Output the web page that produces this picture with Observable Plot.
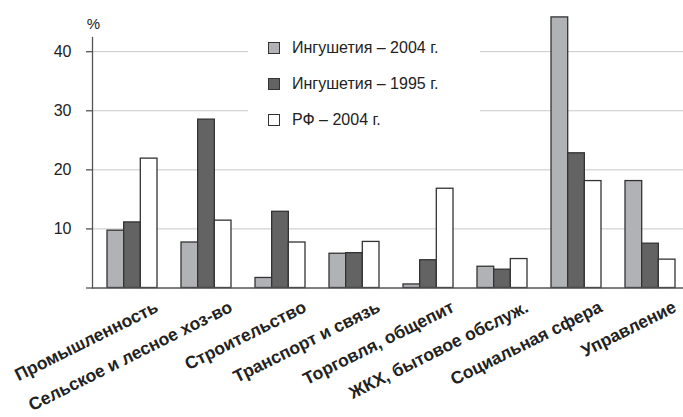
<!DOCTYPE html>
<html>
<head>
<meta charset="utf-8">
<script src="https://cdn.jsdelivr.net/npm/d3@7"></script>
<script src="https://cdn.jsdelivr.net/npm/@observablehq/plot@0.6"></script>
<style>
  html, body { margin: 0; padding: 0; background: #fff; }
  #wrap { position: relative; width: 683px; height: 417px; font-family: "Liberation Sans", Arial, sans-serif; }
  #legend { position: absolute; left: 248px; top: 30px; width: 232px; height: 106px; background: #fff; }
  .item { position: absolute; left: 20px; height: 20px; display: flex; align-items: center; font-size: 16px; color: #222; }
  .sw { width: 10px; height: 10px; border: 1.3px solid #333; margin-right: 12px; }
</style>
</head>
<body>
<div id="wrap"></div>
<script>
const categories = ["Промышленность", "Сельское и лесное хоз-во", "Строительство", "Транспорт и связь",
  "Торговля, общепит", "ЖКХ, бытовое обслуж.", "Социальная сфера", "Управление"];
const seriesNames = ["Ингушетия – 2004 г.", "Ингушетия – 1995 г.", "РФ – 2004 г."];
const ing2004 = [9.7, 7.7, 1.7, 5.8, 0.6, 3.6, 45.8, 18.1];
const ing1995 = [11.1, 28.5, 12.9, 5.9, 4.7, 3.1, 22.8, 7.5];
const rf2004 = [21.9, 11.4, 7.7, 7.8, 16.8, 4.9, 18.1, 4.8];
const seriesValues = [ing2004, ing1995, rf2004];
const colors = ["#b1b2b6", "#636363", "#ffffff"];
const yTicks = [0, 10, 20, 30, 40];

const W = 683, H = 417, mL = 92, mR = 0, mT = 37, mB = 129.5;
const padIn = 0.329, padOut = 0.134, align = 0.633;
const step = (W - mL - mR) / (categories.length - padIn + 2 * padOut);
const bw = step * (1 - padIn);

const barMarks = seriesValues.map((vals, i) =>
  Plot.barY(categories.map((c, j) => ({cat: c, v: vals[j]})), {
    x: "cat", y: "v", fill: colors[i], stroke: "#333", strokeWidth: 1.3,
    insetLeft: i * bw / 3, insetRight: (2 - i) * bw / 3
  })
);

const chart = Plot.plot({
  width: W, height: H, marginLeft: mL, marginRight: mR, marginTop: mT, marginBottom: mB,
  style: {fontFamily: "'Liberation Sans', Arial, sans-serif", fontSize: "16px", color: "#222", background: "transparent"},
  x: {domain: categories, paddingInner: padIn, paddingOuter: padOut, align: align, axis: null},
  y: {domain: [0, 42.4], axis: null},
  marks: [
    Plot.gridY(yTicks.filter(d => d > 0), {stroke: "#c8c8c8", strokeOpacity: 1, strokeWidth: 1}),
    ...barMarks,
    Plot.ruleY([0], {stroke: "#555", strokeWidth: 1.3}),
    Plot.frame({anchor: "left", stroke: "#555", strokeWidth: 1.3}),
    Plot.axisY(yTicks, {label: null, tickSize: 6, tickPadding: 15, fontSize: 16, stroke: "#555", strokeWidth: 1.3,
      tickFormat: d => d === 0 ? "" : String(d)}),
    Plot.text(["%"], {frameAnchor: "top-left", dx: 1, dy: -19, fontSize: 15, textAnchor: "middle"}),
    Plot.text(categories, {x: d => d, frameAnchor: "bottom", rotate: -26.5, textAnchor: "end",
      dx: 27, dy: 23, fontSize: 17.5, fontWeight: "bold", fill: "#222"})
  ]
});

const wrap = document.getElementById("wrap");
wrap.appendChild(chart);

const legend = document.createElement("div");
legend.id = "legend";
const rowTops = [8, 43.5, 79.5];
seriesNames.forEach((name, i) => {
  const it = document.createElement("div");
  it.className = "item";
  it.style.top = rowTops[i] + "px";
  const sw = document.createElement("div");
  sw.className = "sw";
  sw.style.background = colors[i];
  const tx = document.createElement("span");
  tx.textContent = name;
  it.appendChild(sw); it.appendChild(tx);
  legend.appendChild(it);
});
wrap.appendChild(legend);
</script>
</body>
</html>
